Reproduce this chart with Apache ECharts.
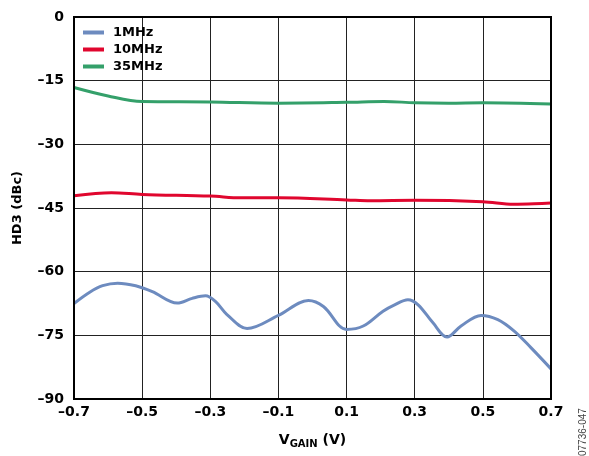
<!DOCTYPE html>
<html><head><meta charset="utf-8">
<script src="https://cdn.jsdelivr.net/npm/echarts@6/dist/echarts.min.js"></script>
<style>html,body{margin:0;padding:0;background:#fff}#c{width:589px;height:456px}</style>
</head><body><div id="c"></div>
<script>
const xs1 = [-0.70,-0.655,-0.616,-0.572,-0.519,-0.470,-0.397,-0.353,-0.314,-0.285,-0.251,-0.192,-0.100,-0.012,0.032,0.100,0.149,0.207,0.241,0.280,0.310,0.353,0.395,0.436,0.495,0.544,0.592,0.641,0.700];
const mhz1 = [-67.5,-64.9,-63.3,-62.7,-63.3,-64.7,-67.4,-66.3,-65.7,-67.0,-70.1,-73.4,-70.3,-66.8,-68.2,-73.6,-72.8,-69.3,-67.8,-66.6,-67.8,-72.0,-75.4,-72.8,-70.3,-71.3,-74.0,-77.9,-82.9];
const xs10 = [-0.70,-0.59,-0.50,-0.30,-0.21,-0.10,0.10,0.17,0.30,0.50,0.59,0.65,0.70];
const mhz10 = [-42.1,-41.4,-41.8,-42.2,-42.6,-42.6,-43.1,-43.3,-43.2,-43.5,-44.1,-44.0,-43.8];
const xs35 = [-0.70,-0.60,-0.50,-0.30,-0.10,0.10,0.21,0.30,0.40,0.50,0.70];
const mhz35 = [-16.6,-18.6,-19.9,-20.0,-20.3,-20.1,-19.9,-20.2,-20.3,-20.2,-20.5];
const names = ['1MHz','10MHz','35MHz'];
const colors = ['#6d8bbf','#e0062e','#34a06a'];

const zip = (a,b)=>a.map((v,i)=>[v,b[i]]);
const fnt = '"DejaVu Sans", sans-serif';
const chart = echarts.init(document.getElementById('c'));
chart.setOption({
  animation:false,
  grid:{left:74,right:38,top:17,bottom:57},
  legend:{
    left:78, top:19, orient:'vertical', itemGap:0, itemWidth:21, itemHeight:4, icon:'rect',
    textStyle:{fontFamily:fnt,fontWeight:'bold',fontSize:13,lineHeight:17,color:'#000',padding:[0,0,0,4]},
    data:names
  },
  xAxis:{
    type:'value', min:-0.7, max:0.7, interval:0.2,
    axisLine:{show:true,onZero:false,lineStyle:{color:'#000',width:2}},
    axisTick:{show:false},
    splitLine:{show:true,lineStyle:{color:'#222',width:1}},
    axisLabel:{fontFamily:fnt,fontWeight:'bold',fontSize:14,color:'#000',margin:6,
      formatter:v=>(Math.round(v*10)/10).toFixed(1).replace('-','\u2013')},
    name:'V{s|GAIN} (V)', nameLocation:'middle', nameGap:33,
    nameTextStyle:{fontFamily:fnt,fontWeight:'bold',fontSize:14,color:'#000',
      rich:{s:{fontFamily:fnt,fontWeight:'bold',fontSize:10,color:'#000',verticalAlign:'bottom',padding:[7,0,0,0]}}}
  },
  yAxis:{
    type:'value', min:-90, max:0, interval:15,
    axisLine:{show:true,onZero:false,lineStyle:{color:'#000',width:2}},
    axisTick:{show:false},
    splitLine:{show:true,lineStyle:{color:'#222',width:1}},
    axisLabel:{fontFamily:fnt,fontWeight:'bold',fontSize:14,color:'#000',margin:10,
      formatter:v=>String(v).replace('-','\u2013')},
    name:'HD3 (dBc)', nameLocation:'middle', nameGap:50,
    nameTextStyle:{fontFamily:fnt,fontWeight:'bold',fontSize:13,color:'#000'}
  },
  graphic:[
    {type:'rect',shape:{x:74,y:17,width:477,height:382},style:{fill:'none',stroke:'#000',lineWidth:2},z:10,silent:true},
    {type:'text',x:578,y:456,rotation:Math.PI/2,style:{text:'07736-047',fontFamily:'"Liberation Sans", Arial, sans-serif',fontSize:10,fill:'#444'}}
  ],
  series:[
    {name:names[0],type:'line',data:zip(xs1,mhz1),smooth:0.35,showSymbol:false,lineStyle:{width:3,color:colors[0]},itemStyle:{color:colors[0]}},
    {name:names[1],type:'line',data:zip(xs10,mhz10),smooth:0.35,showSymbol:false,lineStyle:{width:3,color:colors[1]},itemStyle:{color:colors[1]}},
    {name:names[2],type:'line',data:zip(xs35,mhz35),smooth:0.35,showSymbol:false,lineStyle:{width:3,color:colors[2]},itemStyle:{color:colors[2]}}
  ]
});
</script></body></html>
